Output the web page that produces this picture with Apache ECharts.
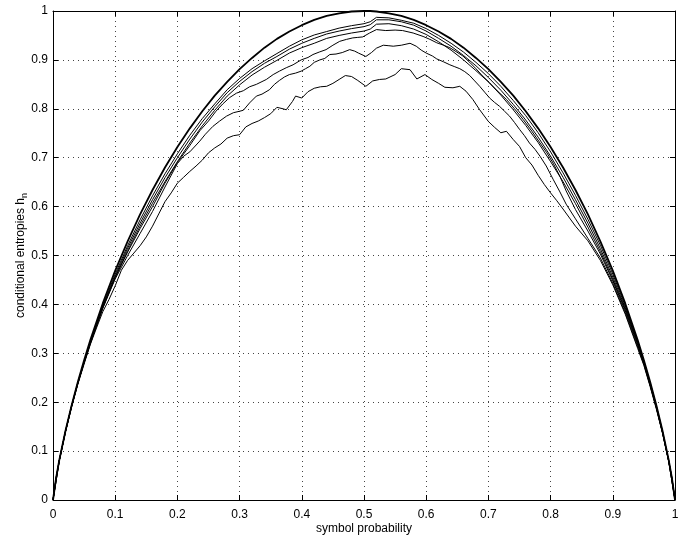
<!DOCTYPE html>
<html>
<head>
<meta charset="utf-8">
<script src="https://cdn.jsdelivr.net/npm/echarts@6/dist/echarts.min.js"></script>
<style>
html,body{margin:0;padding:0;background:#fff;}
#chart{width:696px;height:540px;}
</style>
</head>
<body>
<div id="chart"></div>
<script>
// Axis ticks
const xTicks = [0,0.1,0.2,0.3,0.4,0.5,0.6,0.7,0.8,0.9,1];
const yTicks = [0,0.1,0.2,0.3,0.4,0.5,0.6,0.7,0.8,0.9,1];

// Shared probability grid for the smooth curves
const pGrid = [0,0.005,0.01,0.02,0.03,0.04,0.05,0.06,0.08,0.10,0.12,0.14,0.16,0.18,0.20,0.22,0.24,0.26,0.28,0.30,0.32,0.34,0.36,0.38,0.40,0.42,0.44,0.46,0.48,0.50,0.51,0.52,0.54,0.56,0.58,0.60,0.62,0.64,0.66,0.68,0.70,0.72,0.74,0.76,0.78,0.80,0.82,0.84,0.86,0.88,0.90,0.92,0.94,0.95,0.96,0.97,0.98,0.99,0.995,1];

// Top (outermost) curve
const hTop = [0,0.045,0.081,0.141,0.194,0.242,0.286,0.327,0.402,0.469,0.529,0.584,0.634,0.68,0.722,0.76,0.795,0.827,0.855,0.881,0.904,0.925,0.943,0.958,0.971,0.982,0.99,0.995,0.999,1,1,0.999,0.995,0.99,0.982,0.971,0.958,0.943,0.925,0.904,0.881,0.855,0.827,0.795,0.76,0.722,0.68,0.634,0.584,0.529,0.469,0.402,0.327,0.286,0.242,0.194,0.141,0.081,0.045,0];

const hC1 = [0,0.045,0.08,0.14,0.193,0.24,0.283,0.323,0.397,0.462,0.52,0.573,0.622,0.667,0.708,0.746,0.78,0.81,0.839,0.862,0.882,0.898,0.913,0.928,0.941,0.951,0.958,0.965,0.97,0.974,0.978,0.987,0.986,0.981,0.975,0.964,0.95,0.934,0.916,0.895,0.872,0.846,0.817,0.786,0.751,0.712,0.669,0.623,0.574,0.521,0.462,0.397,0.324,0.284,0.24,0.193,0.14,0.08,0.045,0];

const hC2 = [0,0.045,0.08,0.14,0.193,0.239,0.282,0.321,0.394,0.458,0.515,0.566,0.614,0.659,0.70,0.738,0.773,0.804,0.833,0.856,0.876,0.893,0.907,0.922,0.934,0.944,0.953,0.959,0.964,0.968,0.972,0.982,0.982,0.978,0.971,0.959,0.944,0.928,0.909,0.888,0.864,0.838,0.809,0.777,0.742,0.703,0.66,0.614,0.566,0.514,0.456,0.393,0.322,0.282,0.238,0.191,0.139,0.079,0.045,0];

const hC3 = [0,0.045,0.08,0.139,0.192,0.238,0.281,0.32,0.392,0.455,0.51,0.56,0.607,0.651,0.692,0.73,0.765,0.797,0.826,0.849,0.869,0.885,0.899,0.914,0.925,0.934,0.944,0.95,0.955,0.959,0.963,0.973,0.974,0.97,0.963,0.952,0.937,0.92,0.9,0.878,0.855,0.828,0.798,0.766,0.731,0.692,0.651,0.606,0.558,0.508,0.451,0.39,0.32,0.28,0.236,0.19,0.138,0.079,0.045,0];

// Noisier curves, each with its own sample positions
const pC4 = [0,0.01,0.02,0.03,0.04,0.05,0.06,0.08,0.10,0.12,0.14,0.16,0.18,0.20,0.22,0.236,0.25,0.262,0.273,0.284,0.295,0.306,0.316,0.327,0.343,0.354,0.364,0.375,0.386,0.399,0.41,0.418,0.428,0.439,0.45,0.461,0.472,0.482,0.49,0.498,0.509,0.52,0.535,0.55,0.562,0.579,0.595,0.606,0.617,0.628,0.638,0.648,0.659,0.67,0.68,0.69,0.702,0.715,0.729,0.742,0.756,0.77,0.783,0.794,0.804,0.815,0.825,0.84,0.86,0.88,0.90,0.92,0.94,0.95,0.96,0.97,0.98,0.99,1];
const hC4 = [0,0.08,0.14,0.193,0.24,0.282,0.322,0.395,0.455,0.507,0.555,0.6,0.648,0.69,0.725,0.755,0.775,0.795,0.81,0.823,0.832,0.837,0.845,0.85,0.86,0.87,0.877,0.884,0.89,0.9,0.905,0.911,0.916,0.921,0.93,0.938,0.942,0.945,0.946,0.947,0.955,0.962,0.96,0.961,0.96,0.955,0.948,0.942,0.935,0.93,0.925,0.917,0.908,0.895,0.882,0.868,0.853,0.836,0.819,0.8,0.778,0.754,0.73,0.71,0.689,0.662,0.632,0.594,0.55,0.503,0.448,0.387,0.317,0.279,0.235,0.189,0.138,0.079,0];

const pC5 = [0,0.01,0.02,0.03,0.04,0.05,0.06,0.08,0.10,0.12,0.14,0.16,0.18,0.20,0.21,0.22,0.236,0.245,0.257,0.268,0.279,0.29,0.30,0.306,0.316,0.327,0.336,0.348,0.356,0.364,0.372,0.38,0.39,0.399,0.406,0.413,0.42,0.429,0.437,0.445,0.455,0.465,0.477,0.485,0.491,0.503,0.512,0.52,0.531,0.54,0.547,0.56,0.574,0.584,0.592,0.60,0.61,0.617,0.628,0.638,0.646,0.654,0.662,0.67,0.678,0.686,0.694,0.702,0.71,0.718,0.726,0.734,0.742,0.75,0.758,0.766,0.775,0.783,0.793,0.804,0.815,0.825,0.84,0.86,0.88,0.90,0.92,0.94,0.95,0.96,0.97,0.98,0.99,1];
const hC5 = [0,0.08,0.14,0.192,0.24,0.28,0.32,0.392,0.452,0.5,0.545,0.59,0.64,0.688,0.703,0.712,0.734,0.748,0.764,0.775,0.785,0.792,0.795,0.797,0.812,0.826,0.83,0.839,0.85,0.858,0.865,0.87,0.873,0.877,0.882,0.887,0.895,0.9,0.903,0.911,0.912,0.915,0.921,0.918,0.914,0.907,0.915,0.924,0.93,0.929,0.928,0.93,0.934,0.928,0.92,0.914,0.908,0.902,0.896,0.89,0.886,0.882,0.876,0.868,0.857,0.846,0.834,0.822,0.813,0.805,0.795,0.785,0.772,0.758,0.745,0.73,0.717,0.703,0.683,0.656,0.63,0.605,0.575,0.535,0.495,0.443,0.383,0.313,0.277,0.234,0.188,0.137,0.079,0];

const pC6 = [0,0.01,0.02,0.03,0.04,0.05,0.06,0.07,0.08,0.09,0.10,0.11,0.12,0.13,0.14,0.15,0.16,0.17,0.18,0.19,0.20,0.21,0.22,0.23,0.24,0.25,0.26,0.27,0.28,0.29,0.30,0.31,0.32,0.33,0.34,0.35,0.36,0.37,0.375,0.385,0.39,0.40,0.41,0.42,0.43,0.44,0.45,0.46,0.47,0.48,0.49,0.503,0.514,0.525,0.535,0.55,0.56,0.574,0.585,0.598,0.609,0.62,0.63,0.643,0.654,0.664,0.675,0.686,0.70,0.71,0.72,0.729,0.74,0.75,0.76,0.77,0.78,0.79,0.80,0.81,0.82,0.84,0.86,0.88,0.90,0.92,0.94,0.95,0.96,0.97,0.98,0.99,1];
const hC6 = [0,0.08,0.14,0.19,0.237,0.278,0.318,0.352,0.385,0.41,0.438,0.47,0.49,0.505,0.52,0.538,0.56,0.585,0.61,0.628,0.648,0.66,0.672,0.683,0.695,0.71,0.72,0.728,0.74,0.745,0.747,0.763,0.77,0.775,0.782,0.79,0.803,0.8,0.798,0.815,0.826,0.822,0.835,0.842,0.845,0.846,0.852,0.86,0.868,0.866,0.858,0.846,0.857,0.86,0.861,0.87,0.882,0.88,0.861,0.87,0.86,0.852,0.844,0.843,0.846,0.836,0.819,0.798,0.774,0.762,0.751,0.754,0.737,0.723,0.7,0.685,0.664,0.645,0.628,0.612,0.595,0.56,0.53,0.49,0.44,0.38,0.31,0.275,0.232,0.186,0.136,0.078,0];

function pairs(px, hy){ return px.map((p,i)=>[p, hy[i]]); }

const curves = [
  {p:pGrid, h:hTop, w:1.8},
  {p:pGrid, h:hC1, w:1},
  {p:pGrid, h:hC2, w:1},
  {p:pGrid, h:hC3, w:1},
  {p:pC4, h:hC4, w:1},
  {p:pC5, h:hC5, w:1},
  {p:pC6, h:hC6, w:1}
];

const FONT = 'Liberation Sans, Arial, Helvetica, sans-serif';
const chart = echarts.init(document.getElementById('chart'), null, {renderer:'canvas'});

const baseAxis = {
  type:'value', min:0, max:1, interval:0.1,
  axisLine:{show:true, onZero:false, lineStyle:{color:'#000', width:1}},
  axisTick:{show:true, inside:true, length:5, lineStyle:{color:'#000', width:1}},
};

chart.setOption({
  animation:false,
  backgroundColor:'#fff',
  grid:{left:53, right:21, top:11, bottom:39, containLabel:false},
  xAxis:[
    Object.assign({}, baseAxis, {
      position:'bottom',
      name:'symbol probability', nameLocation:'middle', nameGap:23, nameMoveOverlap:false,
      nameTextStyle:{color:'#000', fontFamily:FONT, fontSize:12},
      axisLabel:{color:'#000', fontFamily:FONT, fontSize:12, margin:9,
        formatter:v=>String(+v.toFixed(1))},
      splitLine:{show:true, lineStyle:{color:'#444', width:1, type:[1,4]}}
    }),
    Object.assign({}, baseAxis, {
      position:'top', axisLabel:{show:false}, splitLine:{show:false}
    })
  ],
  yAxis:[
    Object.assign({}, baseAxis, {
      position:'left',
      name:'conditional entropies h{sub|n}', nameLocation:'middle', nameGap:24, nameRotate:90, nameMoveOverlap:false,
      nameTextStyle:{color:'#000', fontFamily:FONT, fontSize:12,
        rich:{sub:{fontFamily:FONT, fontSize:9, color:'#000', padding:[7,0,0,0]}}},
      axisLabel:{color:'#000', fontFamily:FONT, fontSize:12, margin:5,
        formatter:v=>String(+v.toFixed(1))},
      splitLine:{show:true, lineStyle:{color:'#444', width:1, type:[1,4]}}
    }),
    Object.assign({}, baseAxis, {
      position:'right', axisLabel:{show:false}, splitLine:{show:false}
    })
  ],
  series: curves.map(c=>({
    type:'line', xAxisIndex:0, yAxisIndex:0,
    data:pairs(c.p, c.h), showSymbol:false, symbol:'none',
    lineStyle:{color:'#000', width:c.w}, silent:true
  }))
});
</script>
</body>
</html>
